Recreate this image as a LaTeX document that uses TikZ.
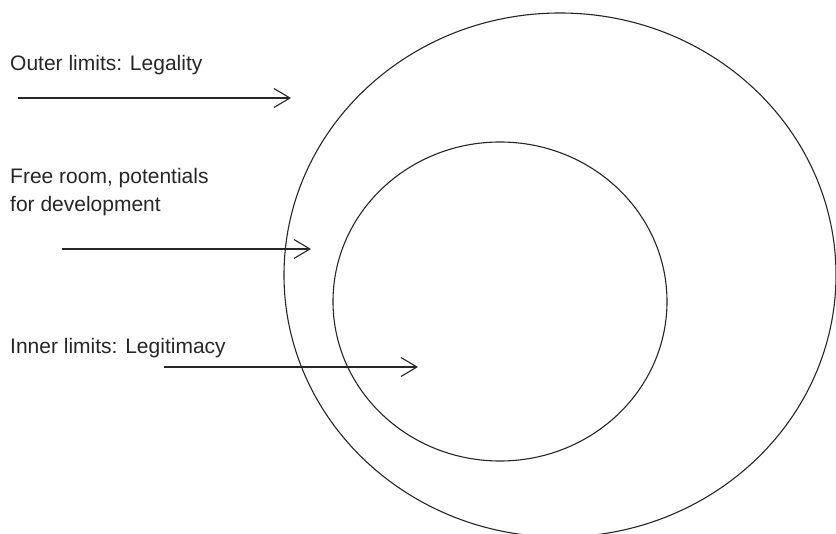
\documentclass[tikz,border=0pt]{standalone}
\usepackage{fontspec}
\setmainfont{Liberation Sans}
\usetikzlibrary{arrows.meta,shapes.geometric}
\begin{document}
\begin{tikzpicture}[x=1pt,y=-1pt,
  lbl/.style={anchor=base west,inner sep=0pt,font=\fontsize{21}{28}\selectfont,align=left,text=black!85},
  ring/.style={draw=black!85,line width=1.1pt,ellipse,inner sep=0pt,outer sep=0pt},
  pointer/.style={draw=black!85,line width=1.1pt,-{Straight Barb[length=16pt,width=19pt,line width=1.1pt]}}]
\useasboundingbox (0,0) rectangle (836,534);
\node[ring,minimum width=552pt,minimum height=524pt] (outerring) at (560,275) {};
\node[ring,minimum width=334pt,minimum height=319pt] (innerring) at (500,301.5) {};
\node[lbl] (outer) at (10,71) {Outer limits: Legality};
\node[lbl] (free) at (10,212) {Free room, potentials\\for development};
\node[lbl] (inner) at (10,354) {Inner limits: Legitimacy};
\coordinate (a1s) at (18,98);
\coordinate (a1e) at (291,98);
\coordinate (a2s) at (62,249);
\coordinate (a2e) at (311,249);
\coordinate (a3s) at (164,367);
\coordinate (a3e) at (418,367);
\draw[pointer] (a1s) -- (a1e);
\draw[pointer] (a2s) -- (a2e);
\draw[pointer] (a3s) -- (a3e);
\end{tikzpicture}
\end{document}
